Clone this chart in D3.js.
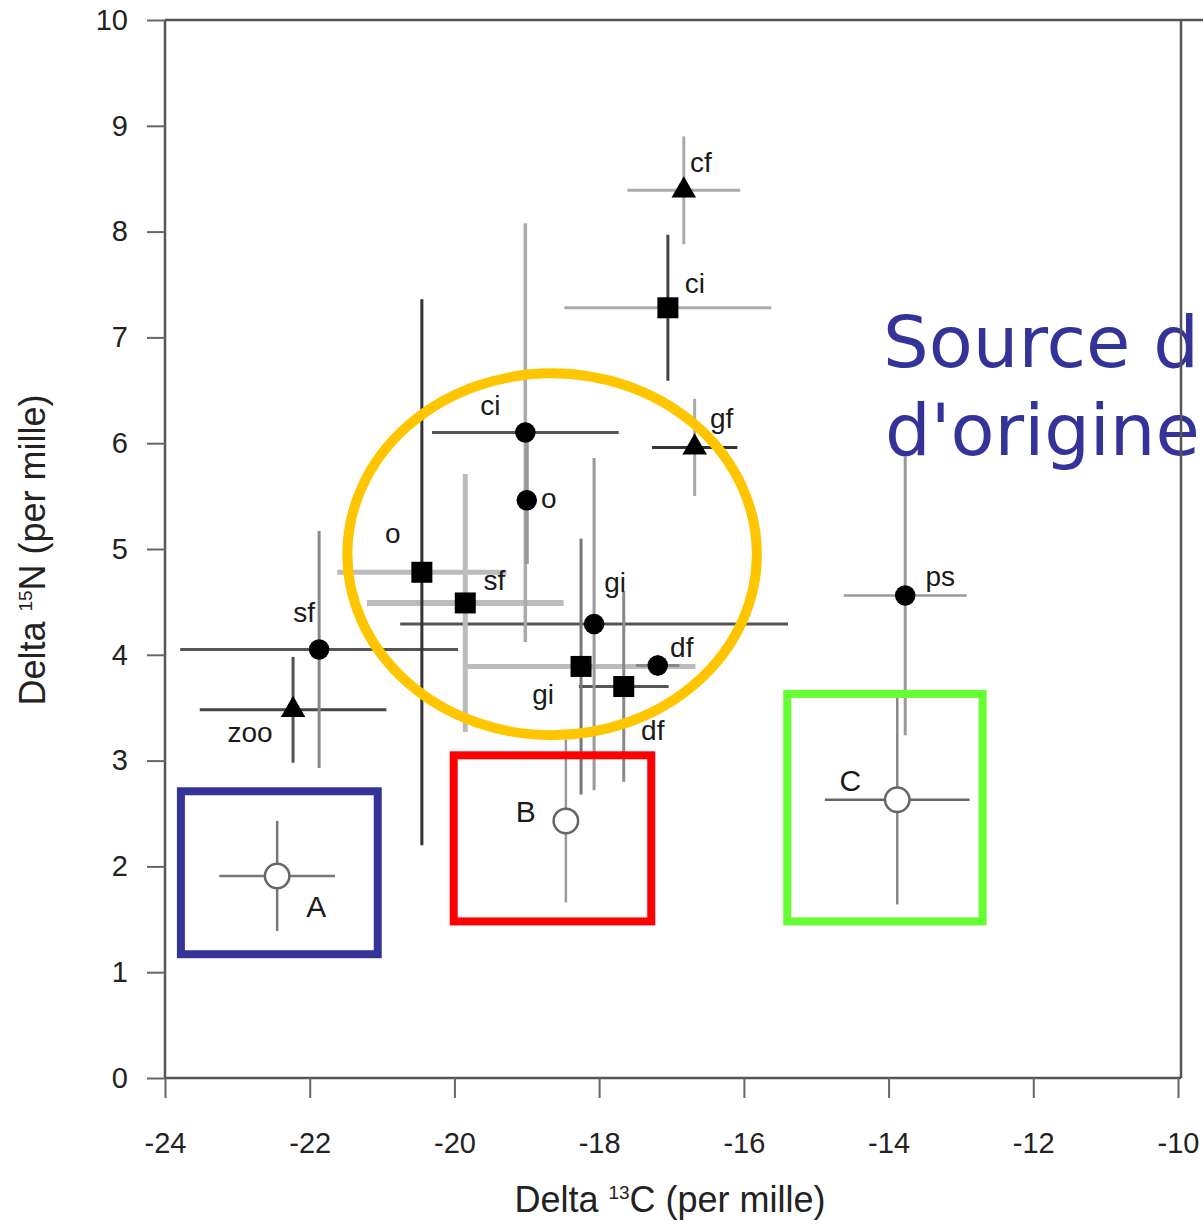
<!DOCTYPE html>
<html>
<head>
<meta charset="utf-8">
<script src="https://cdn.jsdelivr.net/npm/d3@7"></script>
<style>
  body { margin: 0; background: #fff; }
  svg { display: block; }
</style>
</head>
<body>
<svg id="chart" width="1203" height="1224"></svg>
<script>
// Stable isotope means (per mille) with standard deviations
const groups   = ["cf", "ci", "ci", "gf", "o", "o", "sf", "gi", "sf", "zoo", "gi", "df", "df", "ps", "A", "B", "C"];
const markers  = ["triangle", "square", "circle", "triangle", "circle", "square", "square", "circle", "circle", "triangle", "square", "circle", "square", "circle", "open", "open", "open"];
const delta13C = [-16.83, -17.05, -19.02, -16.68, -19.00, -20.45, -19.85, -18.07, -21.87, -22.23, -18.25, -17.19, -17.66, -13.77, -22.45, -18.46, -13.88];
const delta15N = [8.39, 7.28, 6.10, 5.96, 5.46, 4.78, 4.49, 4.29, 4.05, 3.48, 3.89, 3.90, 3.70, 4.56, 1.91, 2.43, 2.63];
const sd13C    = [0.78, 1.43, 1.29, 0.59, 0.00, 1.17, 1.36, 2.68, 1.92, 1.29, 1.58, 0.30, 0.62, 0.85, 0.80, 0.00, 1.00];
const sd15N    = [0.51, 0.69, 1.98, 0.46, 0.60, 2.58, 1.22, 1.57, 1.12, 0.50, 1.21, 0.10, 0.90, 1.32, 0.52, 0.77, 0.99];

const xTicks = [-24, -22, -20, -18, -16, -14, -12, -10];
const yTicks = [0, 1, 2, 3, 4, 5, 6, 7, 8, 9, 10];

// Highlighted source groups (data units)
const sourceEllipse = { cx: -18.65, cy: 4.95, rx: 2.83, ry: 1.71 };
const sourceBoxes = [
  { name: "A", x0: -23.78, x1: -21.06, y0: 1.17, y1: 2.71 },
  { name: "B", x0: -20.01, x1: -17.28, y0: 1.48, y1: 3.05 },
  { name: "C", x0: -15.40, x1: -12.70, y0: 1.48, y1: 3.63 }
];
const sourceTitle = ["Source d", "d'origine"];

// ---- styling (kept apart from the values) ----
const hBar = [ // horizontal (delta13C) bar colour / width
  ["#aaa", 3], ["#aaa", 3], ["#555", 3], ["#333", 3], ["#999", 3], ["#bbb", 5], ["#bbb", 6], ["#555", 3],
  ["#555", 3], ["#444", 3], ["#bbb", 5], ["#888", 3], ["#555", 3], ["#999", 2.5], ["#777", 2.5], ["#999", 2.5], ["#666", 2.5]
];
const vBar = [ // vertical (delta15N) bar colour / width
  ["#aaa", 3], ["#444", 3], ["#aaa", 3.5], ["#aaa", 3], ["#999", 4], ["#333", 3], ["#bbb", 5], ["#999", 3],
  ["#888", 3], ["#555", 3], ["#777", 3], ["#888", 3], ["#888", 3], ["#999", 3], ["#777", 2.5], ["#999", 2.5], ["#888", 2.5]
];
const labelOffset = [ // label centre / baseline relative to the marker, px
  [17, -18], [27, -15], [-35, -18], [27, -19], [22, 8], [-29, -29], [29, -13], [21, -32],
  [-15, -28], [-43, 32], [-38, 38], [24, -8], [29, 53], [35, -10], [39, 41], [-40, 1], [-47, -9]
];

const W = 1203, H = 1224;
const svg = d3.select("#chart");

const x = d3.scaleLinear().domain([-24, -10]).range([165, 1178]);
const y = d3.scaleLinear().domain([0, 10]).range([1078, 20]);

const tickFont = "'Liberation Sans', Arial, sans-serif";

// Title overlay in the upper right
const title = svg.append("g")
  .attr("font-family", "'DejaVu Sans', sans-serif")
  .attr("font-size", 72)
  .attr("fill", "#333399");
title.selectAll("text").data(sourceTitle).join("text")
  .attr("x", (d, i) => i === 0 ? 883 : 885)
  .attr("y", (d, i) => i === 0 ? 367 : 455)
  .text(d => d);

// Frame
const frame = svg.append("g").attr("stroke", "#555").attr("stroke-width", 2.5).attr("fill", "none");
frame.append("line").attr("x1", x(-24)).attr("x2", W).attr("y1", y(10)).attr("y2", y(10));
frame.append("line").attr("x1", x(-24)).attr("x2", 1181).attr("y1", y(0)).attr("y2", y(0));
frame.append("line").attr("x1", x(-24)).attr("x2", x(-24)).attr("y1", y(10)).attr("y2", y(0));
frame.append("line").attr("x1", 1181).attr("x2", 1181).attr("y1", y(10)).attr("y2", y(0));

// Axes
const xAxis = svg.append("g")
  .attr("transform", `translate(0,${y(0)})`)
  .call(d3.axisBottom(x).tickValues(xTicks).tickFormat(d => String(d))
    .tickSize(20).tickSizeOuter(0).tickPadding(34));
const yAxis = svg.append("g")
  .attr("transform", `translate(${x(-24)},0)`)
  .call(d3.axisLeft(y).tickValues(yTicks).tickFormat(d => String(d))
    .tickSize(18).tickSizeOuter(0).tickPadding(19));

[xAxis, yAxis].forEach(a => {
  a.select(".domain").remove();
  a.selectAll(".tick line").attr("stroke", "#666").attr("stroke-width", 2);
  a.selectAll(".tick text")
    .attr("font-family", tickFont)
    .attr("font-size", 29)
    .attr("fill", "#222");
});

// Axis titles
const xTitle = svg.append("text")
  .attr("x", 670).attr("y", 1212)
  .attr("text-anchor", "middle")
  .attr("font-family", tickFont).attr("font-size", 36).attr("fill", "#222");
xTitle.append("tspan").text("Delta ");
xTitle.append("tspan").attr("font-size", 19).attr("dy", -13).text("13");
xTitle.append("tspan").attr("dy", 13).text("C (per mille)");

const yTitle = svg.append("text")
  .attr("transform", "translate(45,550) rotate(-90)")
  .attr("text-anchor", "middle")
  .attr("font-family", tickFont).attr("font-size", 36).attr("fill", "#222");
yTitle.append("tspan").text("Delta ");
yTitle.append("tspan").attr("font-size", 19).attr("dy", -13).text("15");
yTitle.append("tspan").attr("dy", 13).text("N (per mille)");

// Data table
const rows = groups.map((g, i) => ({
  g, m: markers[i], c: delta13C[i], n: delta15N[i], sc: sd13C[i], sn: sd15N[i], i
}));

// Error bars
const bars = svg.append("g");
bars.selectAll("line.h").data(rows.filter(d => d.sc > 0)).join("line")
  .attr("class", "h")
  .attr("x1", d => x(d.c - d.sc)).attr("x2", d => x(d.c + d.sc))
  .attr("y1", d => y(d.n)).attr("y2", d => y(d.n))
  .attr("stroke", d => hBar[d.i][0]).attr("stroke-width", d => hBar[d.i][1]);
bars.selectAll("line.v").data(rows.filter(d => d.sn > 0)).join("line")
  .attr("class", "v")
  .attr("x1", d => x(d.c)).attr("x2", d => x(d.c))
  .attr("y1", d => y(d.n + d.sn)).attr("y2", d => y(d.n - d.sn))
  .attr("stroke", d => vBar[d.i][0]).attr("stroke-width", d => vBar[d.i][1]);

// Markers
const symType = { triangle: d3.symbolTriangle, square: d3.symbolSquare, circle: d3.symbolCircle, open: d3.symbolCircle };
const symSize = { triangle: 260, square: 441, circle: 330, open: 470 };
svg.append("g").selectAll("path").data(rows).join("path")
  .attr("transform", d => `translate(${x(d.c)},${y(d.n)})`)
  .attr("d", d => d3.symbol().type(symType[d.m]).size(symSize[d.m])())
  .attr("fill", d => d.m === "open" ? "#fff" : "#000")
  .attr("stroke", d => d.m === "open" ? "#666" : "none")
  .attr("stroke-width", 2.5);

// Group labels
svg.append("g").selectAll("text").data(rows).join("text")
  .attr("x", d => x(d.c) + labelOffset[d.i][0])
  .attr("y", d => y(d.n) + labelOffset[d.i][1])
  .attr("text-anchor", "middle")
  .attr("font-family", tickFont)
  .attr("font-size", d => d.m === "open" ? 30 : 28)
  .attr("fill", "#1a1a1a")
  .text(d => d.g);

// Highlight shapes
svg.append("ellipse")
  .attr("cx", x(sourceEllipse.cx)).attr("cy", y(sourceEllipse.cy))
  .attr("rx", x(sourceEllipse.cx + sourceEllipse.rx) - x(sourceEllipse.cx))
  .attr("ry", y(sourceEllipse.cy) - y(sourceEllipse.cy + sourceEllipse.ry))
  .attr("fill", "none").attr("stroke", "#ffc600").attr("stroke-width", 10);

const boxColour = { A: "#333399", B: "#ff0000", C: "#66ff33" };
svg.append("g").selectAll("rect").data(sourceBoxes).join("rect")
  .attr("x", d => x(d.x0)).attr("y", d => y(d.y1))
  .attr("width", d => x(d.x1) - x(d.x0))
  .attr("height", d => y(d.y0) - y(d.y1))
  .attr("fill", "none")
  .attr("stroke", d => boxColour[d.name])
  .attr("stroke-width", 8);
</script>
</body>
</html>
